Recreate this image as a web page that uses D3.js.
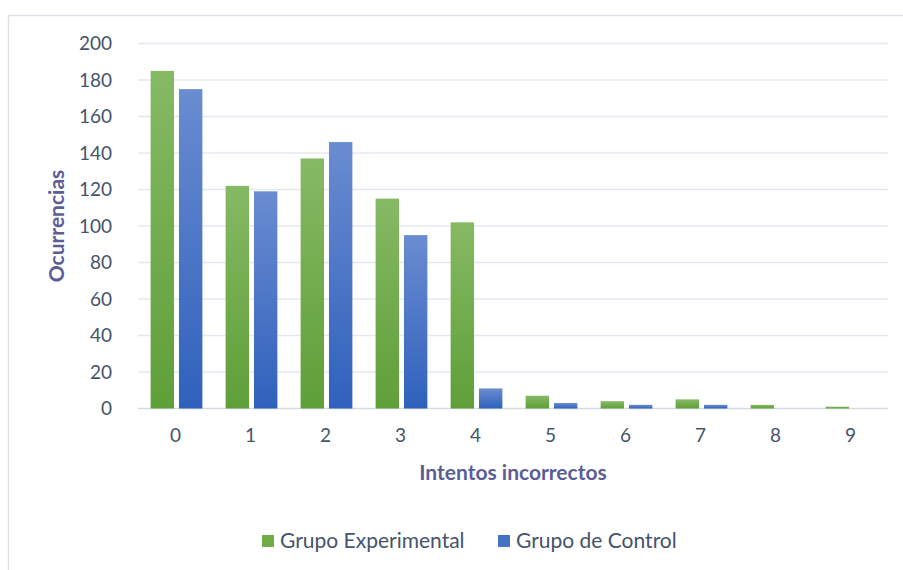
<!DOCTYPE html>
<html>
<head>
<meta charset="utf-8">
<script src="https://cdn.jsdelivr.net/npm/d3@7"></script>
<style>
  html, body { margin: 0; padding: 0; background: #fff; }
  svg { display: block; }
</style>
</head>
<body>
<div id="chart"></div>
<script>
// Data
const categories = ["0", "1", "2", "3", "4", "5", "6", "7", "8", "9"];
const seriesNames = ["Grupo Experimental", "Grupo de Control"];
const experimental = [185, 122, 137, 115, 102, 7, 4, 5, 2, 1];
const control = [175, 119, 146, 95, 11, 3, 2, 2, 0, 0];
const yTicks = [0, 20, 40, 60, 80, 100, 120, 140, 160, 180, 200];

// Layout
const W = 903, H = 570;
const plot = { left: 138, right: 888, top: 43.5, bottom: 408.5 };
const font = "Lato, 'Open Sans', sans-serif";
const tickColor = "#44546A";
const titleColor = "#5B5E96";

const svg = d3.select("#chart").append("svg")
  .attr("width", W)
  .attr("height", H);

// Gradients for the bars
const defs = svg.append("defs");
const gradients = [
  { id: "gGreen", top: "#86B964", bottom: "#5F9F38" },
  { id: "gBlue", top: "#6A8CD1", bottom: "#2F61BC" }
];
gradients.forEach(g => {
  const lg = defs.append("linearGradient")
    .attr("id", g.id)
    .attr("x1", 0).attr("y1", 0).attr("x2", 0).attr("y2", 1);
  lg.append("stop").attr("offset", "0%").attr("stop-color", g.top);
  lg.append("stop").attr("offset", "100%").attr("stop-color", g.bottom);
});

// Chart border (only left/top visible in the reference)
svg.append("rect")
  .attr("x", 8.5).attr("y", 15.5)
  .attr("width", W + 20).attr("height", H + 20)
  .attr("fill", "none")
  .attr("stroke", "#DCE1E8")
  .attr("stroke-width", 1.5);

// Scales
const x = d3.scaleBand()
  .domain(categories)
  .range([plot.left, plot.right]);

const y = d3.scaleLinear()
  .domain([0, 200])
  .range([plot.bottom, plot.top]);

// Gridlines
svg.append("g")
  .selectAll("line")
  .data(yTicks)
  .enter().append("line")
  .attr("x1", plot.left)
  .attr("x2", plot.right)
  .attr("y1", d => y(d))
  .attr("y2", d => y(d))
  .attr("stroke", d => d === 0 ? "#D6DBE3" : "#E4E8EE")
  .attr("stroke-width", d => d === 0 ? 1.5 : 1.3);

// Y axis labels
const yAxis = svg.append("g")
  .attr("transform", `translate(${plot.left - 26},0)`)
  .call(d3.axisLeft(y).tickValues(yTicks).tickSize(0).tickPadding(0));
yAxis.select(".domain").remove();
yAxis.selectAll("text")
  .attr("fill", tickColor)
  .style("font-family", font)
  .style("font-size", "19px");

// X axis labels
const xAxis = svg.append("g")
  .attr("transform", `translate(0,${plot.bottom + 20})`)
  .call(d3.axisBottom(x).tickSize(0).tickPadding(0));
xAxis.select(".domain").remove();
xAxis.selectAll("text")
  .attr("fill", tickColor)
  .style("font-family", font)
  .style("font-size", "19px");

// Bars
const barW = x.bandwidth() * 0.312;
const gap = x.bandwidth() * 0.066;
const series = [
  { name: seriesNames[0], values: experimental, fill: "url(#gGreen)", offset: -gap / 2 - barW },
  { name: seriesNames[1], values: control, fill: "url(#gBlue)", offset: gap / 2 }
];

series.forEach(s => {
  svg.append("g")
    .selectAll("rect")
    .data(s.values)
    .enter().append("rect")
    .attr("x", (d, i) => x(categories[i]) + x.bandwidth() / 2 + 1 + s.offset)
    .attr("y", d => y(d))
    .attr("width", barW)
    .attr("height", d => y(0) - y(d))
    .attr("fill", s.fill);
});

// Axis titles
svg.append("text")
  .attr("x", 513)
  .attr("y", 480)
  .attr("text-anchor", "middle")
  .attr("fill", titleColor)
  .style("font-family", font)
  .style("font-weight", "bold")
  .style("font-size", "21px")
  .text("Intentos incorrectos");

svg.append("text")
  .attr("transform", `translate(64,${(plot.top + plot.bottom) / 2}) rotate(-90)`)
  .attr("text-anchor", "middle")
  .attr("fill", titleColor)
  .style("font-family", font)
  .style("font-weight", "bold")
  .style("font-size", "21px")
  .text("Ocurrencias");

// Legend
const legendItems = [
  { name: seriesNames[0], color: "#70AD47", x: 262 },
  { name: seriesNames[1], color: "#4472C4", x: 498 }
];
const legend = svg.append("g");
legendItems.forEach(item => {
  legend.append("rect")
    .attr("x", item.x)
    .attr("y", 535)
    .attr("width", 12)
    .attr("height", 12)
    .attr("fill", item.color);
  legend.append("text")
    .attr("x", item.x + 18)
    .attr("y", 548)
    .attr("fill", tickColor)
    .style("font-family", font)
    .style("font-size", "21px")
    .text(item.name);
});
</script>
</body>
</html>
